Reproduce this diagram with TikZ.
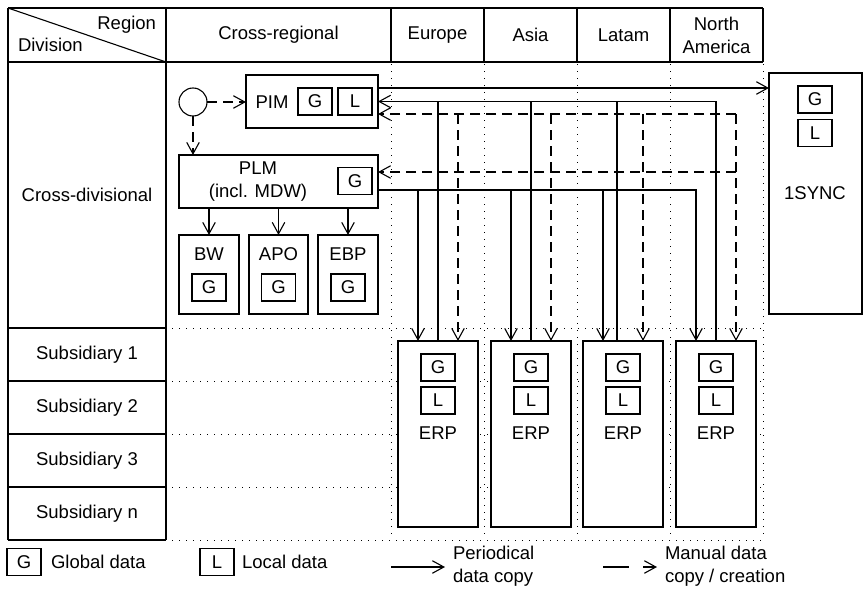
\documentclass[tikz,border=0pt]{standalone}
\usepackage{fontspec}
\setmainfont{Liberation Sans}
\usetikzlibrary{arrows.meta}
\begin{document}
\begin{tikzpicture}[x=1pt,y=-1pt, font=\fontsize{18.5}{23}\selectfont, line width=1.1pt,
  box/.style={draw, fill=white, inner sep=0pt, outer sep=0pt},
  tag/.style={box, minimum width=34pt, minimum height=27pt},
  lbl/.style={inner sep=0pt, outer sep=0pt},
  arr/.style={-{Straight Barb[length=11.5pt,width=12.5pt]}},
  darr/.style={arr, dash pattern=on 10pt off 6pt},
  ldarr/.style={arr, dash pattern=on 26pt off 14pt},
  gridline/.style={line width=1pt, dash pattern=on 1pt off 6pt}]
\useasboundingbox (0,0) rectangle (863,589);

% ---- dotted grid ----
\foreach \x in {391,484,577,670,763} \draw[gridline] (\x,64) -- (\x,540);
\foreach \y in {328,381,434,487,540} \draw[gridline] (172,\y) -- (763,\y);

% ---- header ----
\draw (8,8) -- (763,8) (8,62) -- (763,62);
\foreach \x in {8,166,391,484,577,670,763} \draw (\x,8) -- (\x,62);
\draw (8,8) -- (166,62);
\node[lbl, anchor=east] (hreg) at (156,25) {Region};
\node[lbl, anchor=west] (hdiv) at (18,45) {Division};
\node[lbl] (hcr) at (278.5,35) {Cross-regional};
\node[lbl] (heu) at (437.5,35) {Europe};
\node[lbl] (has) at (530.5,35) {Asia};
\node[lbl] (hla) at (623.5,35) {Latam};
\node[lbl, align=center] (hna) at (716.5,35) {North\\America};

% ---- left column ----
\draw (8,62) -- (8,540) (166,62) -- (166,540);
\foreach \y in {328,381,434,487,540} \draw (8,\y) -- (166,\y);
\node[lbl] (lcd) at (87,195) {Cross-divisional};
\node[lbl] (ls1) at (87,354.5) {Subsidiary 1};
\node[lbl] (ls2) at (87,407.5) {Subsidiary 2};
\node[lbl] (ls3) at (87,460.5) {Subsidiary 3};
\node[lbl] (lsn) at (87,513.5) {Subsidiary n};

% ---- systems ----
\node[box, circle, minimum size=28pt] (src) at (193,102) {};
\node[box, minimum width=132pt, minimum height=53pt] (pim) at (312,101.5) {};
\node[lbl] (pimt) at (272,102) {PIM};
\node[tag] (pimg) at (315,101.5) {G};
\node[tag] (piml) at (355,101.5) {L};

\node[box, minimum width=199pt, minimum height=53pt] (plm) at (278.5,181.5) {};
\node[lbl, align=center] (plmt) at (258,181.5) {PLM\\(incl. MDW)};
\node[tag] (plmg) at (355,181) {G};

\foreach \n/\t/\x/\w in {bw/BW/209/60, apo/APO/278.5/59, ebp/EBP/348/60}{
  \node[box, minimum width=\w pt, minimum height=79pt] (\n) at (\x,274.5) {};
  \node[lbl] (\n t) at (\x,254) {\t};
  \node[tag] (\n g) at (\x,287.5) {G};
}

\node[box, minimum width=93pt, minimum height=241pt] (sync) at (815.5,193.5) {};
\node[tag] (syncg) at (815,99.5) {G};
\node[tag] (syncl) at (815,133) {L};
\node[lbl] (synct) at (815,193) {1SYNC};

\foreach \i/\x in {1/438,2/531,3/623,4/716}{
  \node[box, minimum width=80pt, minimum height=186pt] (erp\i) at (\x,434) {};
  \node[tag] (erp\i g) at (\x,367.5) {G};
  \node[tag] (erp\i l) at (\x,400.5) {L};
  \node[lbl] (erp\i t) at (\x,433) {ERP};
}

% ---- connectors ----
\draw[darr] (src.east) -- (src.east -| pim.west);
\draw[darr] (src.south) -- (src.south |- plm.north);
\draw[arr] (plm.south -| bw) -- (bw.north);
\draw[arr] (plm.south -| apo) -- (apo.north);
\draw[arr] (plm.south -| ebp) -- (ebp.north);

% PIM -> 1SYNC
\draw[arr] ([yshift=13.5pt]pim.east) -- ([yshift=13.5pt]pim.east -| sync.west);

% ERP -> PIM (periodical)
\draw[arr] (erp4.north) |- (pim.east);
\draw (erp1.north) -- (erp1.north |- pim.east);
\draw (erp2.north) -- (erp2.north |- pim.east);
\draw ([xshift=-6pt]erp3.north) -- ([xshift=-6pt]erp3.north |- pim.east);

% manual bus
\coordinate (dA) at ([yshift=-12.5pt]pim.east);
\coordinate (dB) at ([yshift=9.5pt]plm.east);
\draw[darr] ([xshift=20pt]erp4.north |- dA) -- (dA);
\draw[darr] ([xshift=20pt]erp4.north |- dB) -- (dB);
\foreach \i in {1,2,3,4}
  \draw[darr] ([xshift=20pt]erp\i.north |- dA) -- ([xshift=20pt]erp\i.north);

% PLM -> ERP (periodical)
\coordinate (bP) at ([yshift=-8.5pt]plm.east);
\draw[arr] (bP) -| ([xshift=-20pt]erp4.north);
\foreach \i in {1,2,3}
  \draw[arr] ([xshift=-20pt]erp\i.north |- bP) -- ([xshift=-20pt]erp\i.north);

% ---- legend ----
\node[tag] (lgG) at (24,562) {G};
\node[lbl, anchor=west] (lgGt) at (51,562) {Global data};
\node[tag] (lgL) at (217,562) {L};
\node[lbl, anchor=west] (lgLt) at (242,562) {Local data};
\coordinate (lpa) at (391,567);
\coordinate (lpb) at (445,567);
\draw[arr] (lpa) -- (lpb);
\node[lbl, anchor=west, align=left] (lgP) at (453,566.5) {Periodical\\data copy};
\coordinate (lma) at (603,567);
\coordinate (lmb) at (657,567);
\draw[ldarr] (lma) -- (lmb);
\node[lbl, anchor=west, align=left] (lgM) at (665,566.5) {Manual data\\copy / creation};
\end{tikzpicture}
\end{document}
